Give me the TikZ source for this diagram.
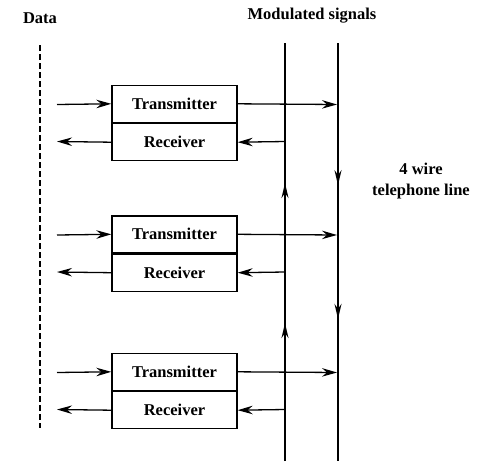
\documentclass[tikz,border=0pt]{standalone}
\usepackage{fontspec}
\setmainfont{Liberation Serif}
\usetikzlibrary{arrows.meta,decorations.markings}
\begin{document}
\begin{tikzpicture}[x=1pt,y=-1pt,
  lbl/.style={font=\fontsize{16.5}{21}\selectfont\bfseries},
  unit/.style={draw,line width=1.4pt,minimum width=125pt,minimum height=37pt,inner sep=0pt,lbl},
  sig/.style={line width=1.3pt,-{Stealth[length=15pt,width=8.5pt,inset=5pt]}},
  wire/.style={line width=1.8pt},
  upmarks/.style={postaction={decorate},decoration={markings,
    mark=at position 0.33 with {\arrow{Stealth[length=15pt,width=7pt,inset=5pt]}},
    mark=at position 0.665 with {\arrow{Stealth[length=15pt,width=7pt,inset=5pt]}}}},
  downmarks/.style={postaction={decorate},decoration={markings,
    mark=at position 0.34 with {\arrow{Stealth[length=15pt,width=7pt,inset=5pt]}},
    mark=at position 0.66 with {\arrow{Stealth[length=15pt,width=7pt,inset=5pt]}}}}
]
\useasboundingbox (0,0) rectangle (479,461);

% headings
\node[lbl] (data) at (40,18) {Data};
\node[lbl] (mod) at (312,16) {Modulated signals};
\node[lbl,align=center] (line) at (421,181) {4 wire\\telephone line};

% data side (dashed)
\coordinate (dtop) at (40,45);
\coordinate (dbot) at (40,428);
\draw[line width=1.6pt,dash pattern=on 6pt off 3pt] (dtop) -- (dbot);

% the two line wires
\coordinate (utop) at (285,43);
\coordinate (ubot) at (285,461);
\coordinate (dwtop) at (338,43);
\coordinate (dwbot) at (338,461);
\draw[wire,upmarks] (ubot) -- (utop);
\draw[wire,downmarks] (dwtop) -- (dwbot);

% modem units
\foreach \i/\yt in {1/104.5,2/235,3/372.5}{
  \node[unit,anchor=south] (tx\i) at (174.5,{\yt+18.5}) {Transmitter};
  \node[unit,anchor=north] (rx\i) at (tx\i.south) {Receiver};
  \coordinate (din\i) at (57,\yt);
  \coordinate (dout\i) at (57,{\yt+37});
  \coordinate (wout\i) at (337,\yt);
  \coordinate (win\i) at (285,{\yt+37});
  \draw[sig] (din\i) -- (tx\i.west);
  \draw[sig] (rx\i.west) -- (dout\i);
  \draw[sig] (tx\i.east) -- (wout\i);
  \draw[sig] (win\i) -- (rx\i.east);
}
\end{tikzpicture}
\end{document}
